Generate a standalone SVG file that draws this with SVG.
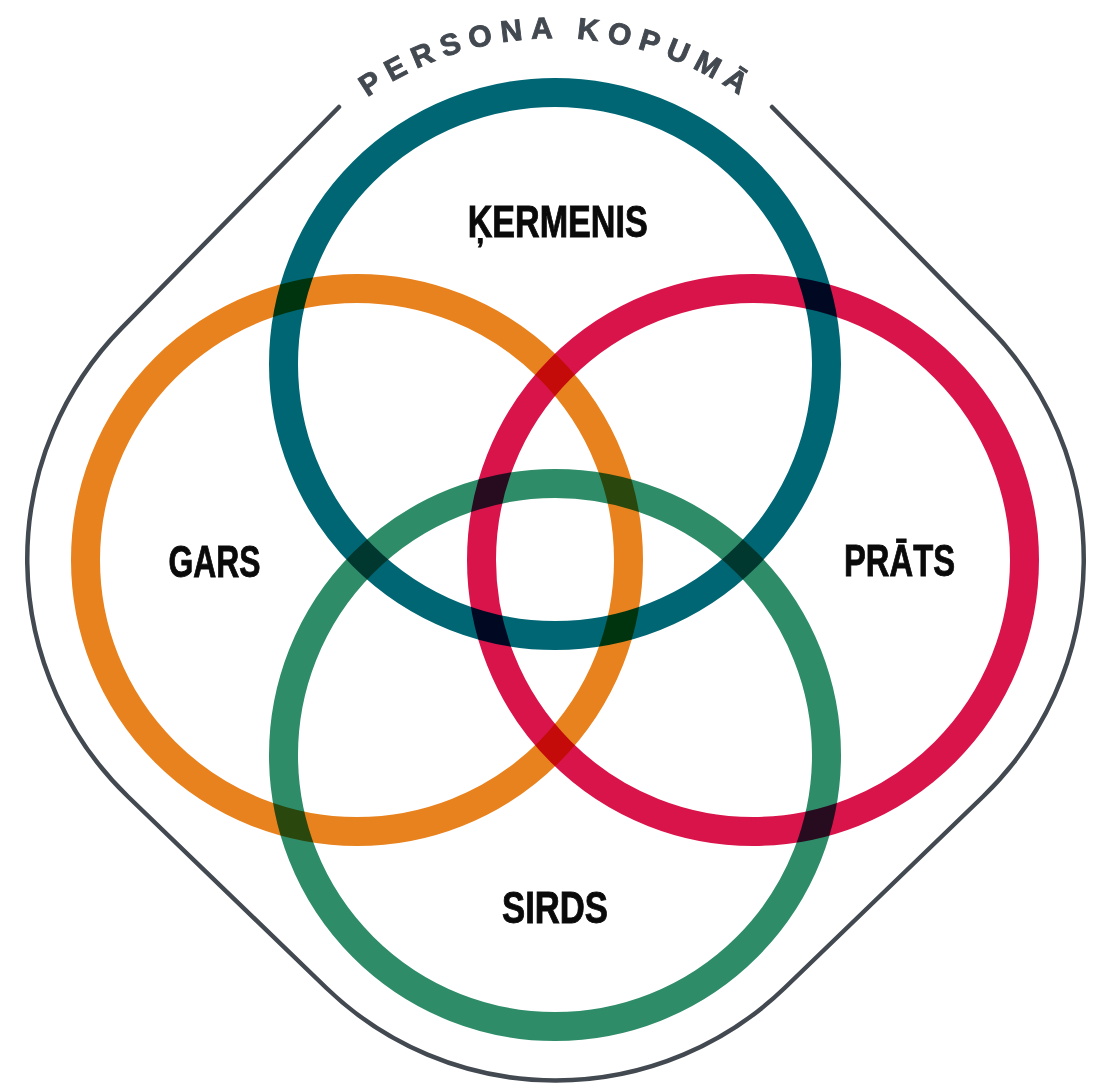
<svg xmlns="http://www.w3.org/2000/svg" width="1102" height="1084" viewBox="0 0 1102 1084">
  <style>
    .ring { fill: none; stroke-width: 29; mix-blend-mode: multiply; }
    .label { font-family: "Liberation Sans", Arial, sans-serif; font-weight: bold; font-size: 44px; fill: #0a0a0a; stroke: #0a0a0a; stroke-width: 0.9; text-anchor: middle; }
    .title { font-family: "Liberation Sans", Arial, sans-serif; font-weight: bold; font-size: 30px; fill: #434950; stroke: #434950; stroke-width: 0.9; letter-spacing: 8.2px; text-anchor: middle; }
    .frame { fill: none; stroke: #434950; stroke-width: 4.5; stroke-linecap: round; stroke-linejoin: round; }
  </style>
  <defs>
    <path id="titleArc" d="M 229 364 A 326 326 0 0 1 881 364"/>
  </defs>
  <rect x="0" y="0" width="1102" height="1084" fill="#ffffff"/>
  <g id="frame">
    <path class="frame" d="M 339 107 L 122.1 327.7 A 330 330 0 0 0 127.9 796.5 L 326.4 988 A 330 330 0 0 0 784.6 988 L 983.1 796.5 A 330 330 0 0 0 988.9 327.7 L 772 107"/>
    <text class="title"><textPath href="#titleArc" startOffset="514">PERSONA KOPUMĀ</textPath></text>
  </g>
  <g id="rings" style="isolation:isolate">
    <g id="kermenis">
      <circle class="ring" cx="555" cy="364" r="271.5" stroke="#006674"/>
      <text class="label" x="557.7" y="236.7" textLength="180" lengthAdjust="spacingAndGlyphs">ĶERMENIS</text>
    </g>
    <g id="gars">
      <circle class="ring" cx="357" cy="560" r="271.5" stroke="#E8821E"/>
      <text class="label" x="214.5" y="577" textLength="92" lengthAdjust="spacingAndGlyphs">GARS</text>
    </g>
    <g id="prats">
      <circle class="ring" cx="753" cy="560" r="271.5" stroke="#D8144A"/>
      <text class="label" x="899.5" y="575.5" textLength="111" lengthAdjust="spacingAndGlyphs">PRĀTS</text>
    </g>
    <g id="sirds">
      <circle class="ring" cx="555" cy="755" r="271.5" stroke="#2E8C69"/>
      <text class="label" x="555" y="923" textLength="106" lengthAdjust="spacingAndGlyphs">SIRDS</text>
    </g>
  </g>
  <g id="connectors"></g>
</svg>
